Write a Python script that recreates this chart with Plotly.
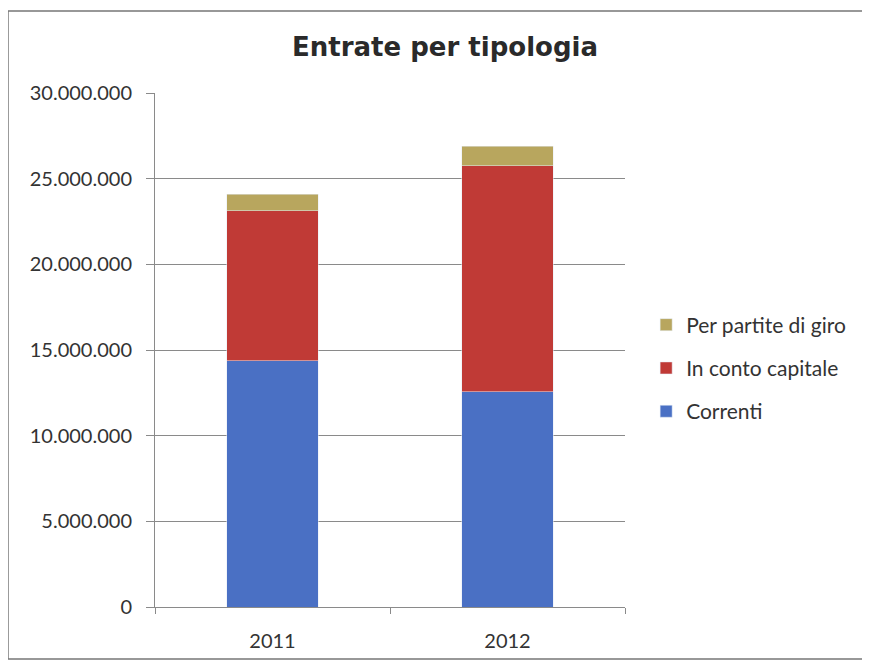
import plotly.graph_objects as go

years = ["2011", "2012"]
correnti = [14360000, 12550000]
conto_capitale = [8770000, 13190000]
partite_giro = [960000, 1160000]
y_ticks = [0, 5000000, 10000000, 15000000, 20000000, 25000000, 30000000]
y_tick_labels = ["0", "5.000.000", "10.000.000", "15.000.000", "20.000.000", "25.000.000", "30.000.000"]

fig = go.Figure()
fig.add_trace(go.Bar(x=years, y=correnti, name="Correnti", marker_color="#4A70C4",
                     legendgroup="c", legendrank=3))
fig.add_trace(go.Bar(x=years, y=conto_capitale, name="In conto capitale", marker_color="#C03A36",
                     legendgroup="b", legendrank=2))
fig.add_trace(go.Bar(x=years, y=partite_giro, name="Per partite di giro", marker_color="#B8A65E",
                     legendgroup="a", legendrank=1))

font_family = "Lato, Open Sans, sans-serif"
# plot area in figure px: x 147..617, y 85..599
fig.update_layout(
    barmode="stack",
    bargap=0.61,
    width=870, height=661,
    paper_bgcolor="white", plot_bgcolor="white",
    margin=dict(l=147, r=253, t=85, b=62, autoexpand=False),
    title=dict(text="<b>Entrate per tipologia</b>", x=0.5023, xanchor="center", y=0.941, yanchor="middle",
               font=dict(size=26, color="#2a2a2a", family="DejaVu Sans, Verdana, sans-serif")),
    font=dict(family=font_family, size=20, color="#333"),
    legend=dict(x=1.045, y=0.465, xanchor="left", yanchor="middle", traceorder="grouped",
                font=dict(size=21, color="#333"), tracegroupgap=13),
    showlegend=True,
)
fig.update_yaxes(range=[0, 30000000], tickvals=y_ticks, ticktext=y_tick_labels,
                 showgrid=True, gridcolor="#8a8a8a", gridwidth=1,
                 showline=True, linecolor="#8a8a8a", ticks="outside", ticklen=8, tickcolor="#8a8a8a",
                 ticklabelstandoff=10,
                 zeroline=False, tickfont=dict(size=20, color="#333"))
fig.update_xaxes(showline=True, linecolor="#8a8a8a", ticks="outside", tickson="boundaries",
                 ticklen=6, tickcolor="#8a8a8a", ticklabelstandoff=16, tickfont=dict(size=20, color="#333"))
fig.add_shape(type="rect", xref="paper", yref="paper", x0=-0.3128, x1=1.56, y0=-0.101, y1=1.1595,
              line=dict(color="#777", width=1.5), layer="below")
fig.write_html("out.html")
